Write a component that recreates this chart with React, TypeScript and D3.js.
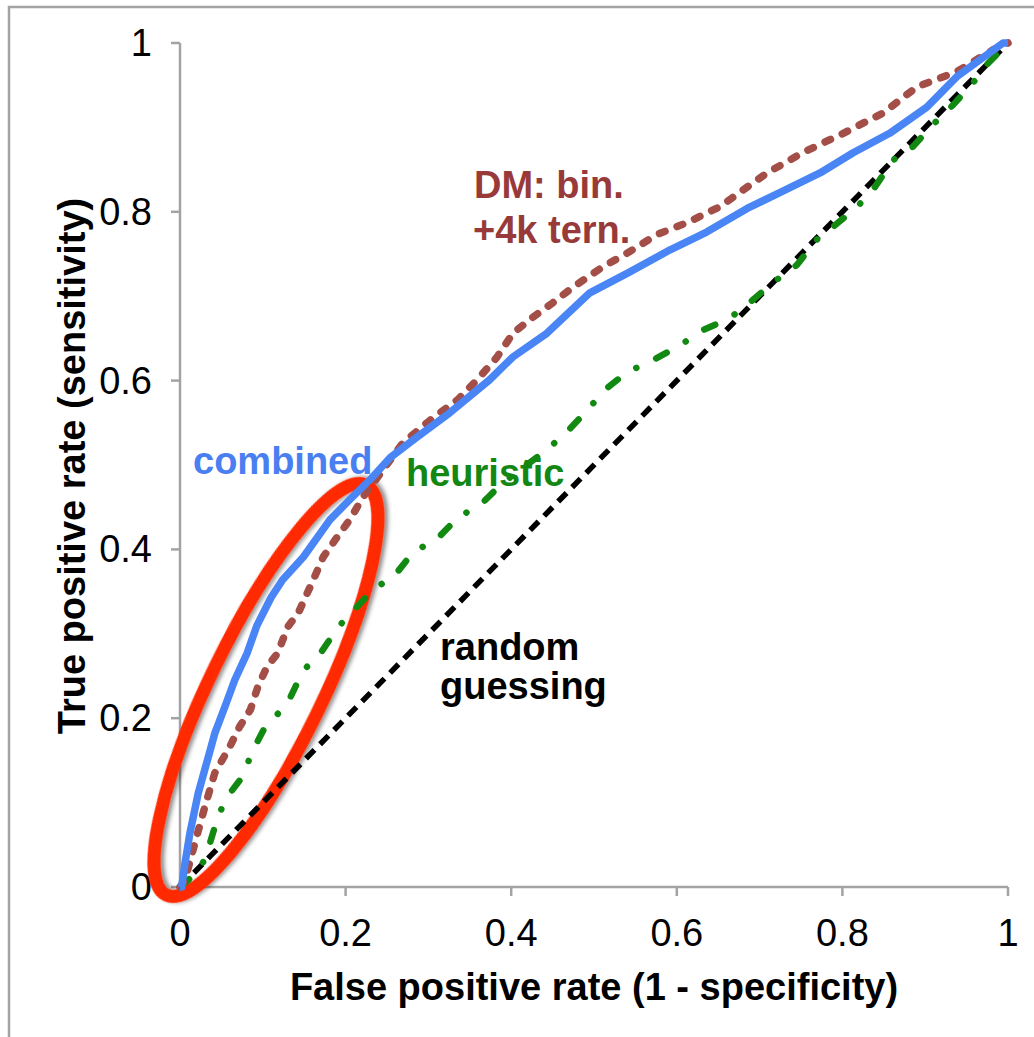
import * as d3 from 'd3';

// ROC curves (false positive rate, true positive rate)
const combinedFpr = [0, 0.002, 0.006, 0.012, 0.022, 0.033, 0.042, 0.054, 0.066, 0.081, 0.093, 0.11, 0.124, 0.149, 0.181, 0.205, 0.229, 0.254, 0.286, 0.326, 0.374, 0.402, 0.443, 0.495, 0.54, 0.592, 0.636, 0.685, 0.725, 0.773, 0.813, 0.857, 0.902, 0.938, 0.994, 1];
const combinedTpr = [0, 0.0, 0.028, 0.064, 0.111, 0.15, 0.182, 0.213, 0.245, 0.277, 0.31, 0.343, 0.364, 0.391, 0.435, 0.459, 0.482, 0.509, 0.533, 0.562, 0.601, 0.628, 0.656, 0.704, 0.727, 0.755, 0.776, 0.804, 0.823, 0.846, 0.87, 0.893, 0.924, 0.96, 1.0, 1];

const dmFpr = [0, 0.006, 0.018, 0.03, 0.042, 0.06, 0.072, 0.085, 0.094, 0.105, 0.118, 0.13, 0.143, 0.161, 0.173, 0.19, 0.205, 0.221, 0.245, 0.269, 0.302, 0.335, 0.359, 0.383, 0.402, 0.426, 0.45, 0.475, 0.511, 0.54, 0.576, 0.612, 0.652, 0.676, 0.709, 0.752, 0.801, 0.849, 0.89, 0.938, 0.982, 1];
const dmTpr = [0, 0.008, 0.052, 0.095, 0.135, 0.166, 0.19, 0.21, 0.237, 0.261, 0.277, 0.308, 0.325, 0.364, 0.391, 0.415, 0.435, 0.462, 0.494, 0.526, 0.553, 0.577, 0.601, 0.628, 0.656, 0.675, 0.692, 0.711, 0.735, 0.751, 0.773, 0.787, 0.806, 0.823, 0.846, 0.87, 0.893, 0.917, 0.948, 0.966, 0.992, 1];

const heuristicFpr = [0, 0.01, 0.03, 0.042, 0.054, 0.075, 0.088, 0.103, 0.129, 0.149, 0.167, 0.191, 0.233, 0.26, 0.281, 0.312, 0.335, 0.365, 0.39, 0.443, 0.467, 0.492, 0.513, 0.54, 0.571, 0.604, 0.632, 0.664, 0.691, 0.716, 0.745, 0.769, 0.791, 0.818, 0.839, 0.861, 0.885, 0.909, 0.934, 0.958, 0.976, 1];
const heuristicTpr = [0, 0.008, 0.032, 0.071, 0.103, 0.13, 0.162, 0.19, 0.216, 0.257, 0.273, 0.308, 0.352, 0.37, 0.396, 0.414, 0.437, 0.455, 0.479, 0.518, 0.539, 0.565, 0.589, 0.61, 0.624, 0.642, 0.66, 0.674, 0.695, 0.716, 0.737, 0.767, 0.784, 0.806, 0.829, 0.861, 0.877, 0.903, 0.927, 0.953, 0.976, 1];

const randomFpr = [0, 1];
const randomTpr = [0, 1];

const tickValues = [0, 0.2, 0.4, 0.6, 0.8, 1];
const tickLabels = ['0', '0.2', '0.4', '0.6', '0.8', '1'];

const W = 1034;
const H = 1037;
const FONT = 'Helvetica, Arial, "Liberation Sans", sans-serif';
const AXIS_GREY = '#a3a3a3';
const FS = 38;

const x = d3.scaleLinear().domain([0, 1]).range([180, 1008]);
const y = d3.scaleLinear().domain([0, 1]).range([887, 43]);

const toPoints = (xs: number[], ys: number[]) => xs.map((v, i) => [v, ys[i]] as [number, number]);
const line = d3
    .line<[number, number]>()
    .x((d) => x(d[0]))
    .y((d) => y(d[1]));

export default function App() {
    return (
        <svg
            width={W}
            height={H}
            style={{ position: 'absolute', left: 0, top: 0, background: '#fff' }}
            fontFamily={FONT}
        >
            <defs>
                <filter id="shadow" x="-20%" y="-20%" width="140%" height="140%">
                    <feDropShadow dx="2" dy="3" stdDeviation="2" floodColor="#000" floodOpacity="0.45" />
                </filter>
            </defs>

            {/* outer frame */}
            <rect x={9} y={7} width={1100} height={1100} fill="none" stroke={AXIS_GREY} strokeWidth={2.5} />

            {/* axes */}
            <line x1={x(0)} x2={x(0)} y1={y(1)} y2={y(0)} stroke={AXIS_GREY} strokeWidth={2.5} />
            <line x1={x(0)} x2={x(1)} y1={y(0)} y2={y(0)} stroke={AXIS_GREY} strokeWidth={2.5} />
            {tickValues.map((t, i) => (
                <g key={'y' + i}>
                    <line x1={x(0) - 9} x2={x(0)} y1={y(t)} y2={y(t)} stroke={AXIS_GREY} strokeWidth={2.5} />
                    <text x={152} y={y(t) + 13} fontSize={FS} textAnchor="end" fill="#000">
                        {tickLabels[i]}
                    </text>
                </g>
            ))}
            {tickValues.map((t, i) => (
                <g key={'x' + i}>
                    <line x1={x(t)} x2={x(t)} y1={y(0)} y2={y(0) + 9} stroke={AXIS_GREY} strokeWidth={2.5} />
                    <text x={x(t)} y={946} fontSize={FS} textAnchor="middle" fill="#000">
                        {tickLabels[i]}
                    </text>
                </g>
            ))}

            <text x={594} y={1000} fontSize={FS} fontWeight="bold" textAnchor="middle">
                False positive rate (1 - specificity)
            </text>
            <text
                transform="translate(85,466) rotate(-90)"
                fontSize={FS}
                fontWeight="bold"
                textAnchor="middle"
            >
                True positive rate (sensitivity)
            </text>

            {/* highlight ellipse */}
            <ellipse
                cx={266}
                cy={690}
                rx={228}
                ry={56}
                transform="rotate(-64 266 690)"
                fill="none"
                stroke="#ff2a00"
                strokeWidth={13}
                filter="url(#shadow)"
            />

            {/* curves */}
            <path
                d={line(toPoints(randomFpr, randomTpr)) ?? ''}
                fill="none"
                stroke="#000"
                strokeWidth={5.5}
                strokeDasharray="12 8"
            />
            <path
                d={line(toPoints(heuristicFpr, heuristicTpr)) ?? ''}
                fill="none"
                stroke="#128a12"
                strokeWidth={6.5}
                strokeLinecap="round"
                strokeLinejoin="round"
                strokeDasharray="12 22 0.1 22"
            />
            <path
                d={line(toPoints(dmFpr, dmTpr)) ?? ''}
                fill="none"
                stroke="#a44e48"
                strokeWidth={7.5}
                strokeLinecap="round"
                strokeLinejoin="round"
                strokeDasharray="6 13"
            />
            <path
                d={line(toPoints(combinedFpr, combinedTpr)) ?? ''}
                fill="none"
                stroke="#4a85f6"
                strokeWidth={7.5}
                strokeLinejoin="round"
            />

            {/* annotations */}
            <text x={193} y={474} fontSize={FS} fontWeight="bold" fill="#4a7ff2">
                combined
            </text>
            <text x={406} y={486} fontSize={FS} fontWeight="bold" fill="#138713">
                heuristic
            </text>
            <text x={474} y={198} fontSize={FS} fontWeight="bold" fill="#983a3a">
                DM: bin.
            </text>
            <text x={473} y={243} fontSize={FS} fontWeight="bold" fill="#983a3a">
                +4k tern.
            </text>
            <text x={440} y={660} fontSize={FS} fontWeight="bold" fill="#000">
                random
            </text>
            <text x={440} y={699} fontSize={FS} fontWeight="bold" fill="#000">
                guessing
            </text>
        </svg>
    );
}
